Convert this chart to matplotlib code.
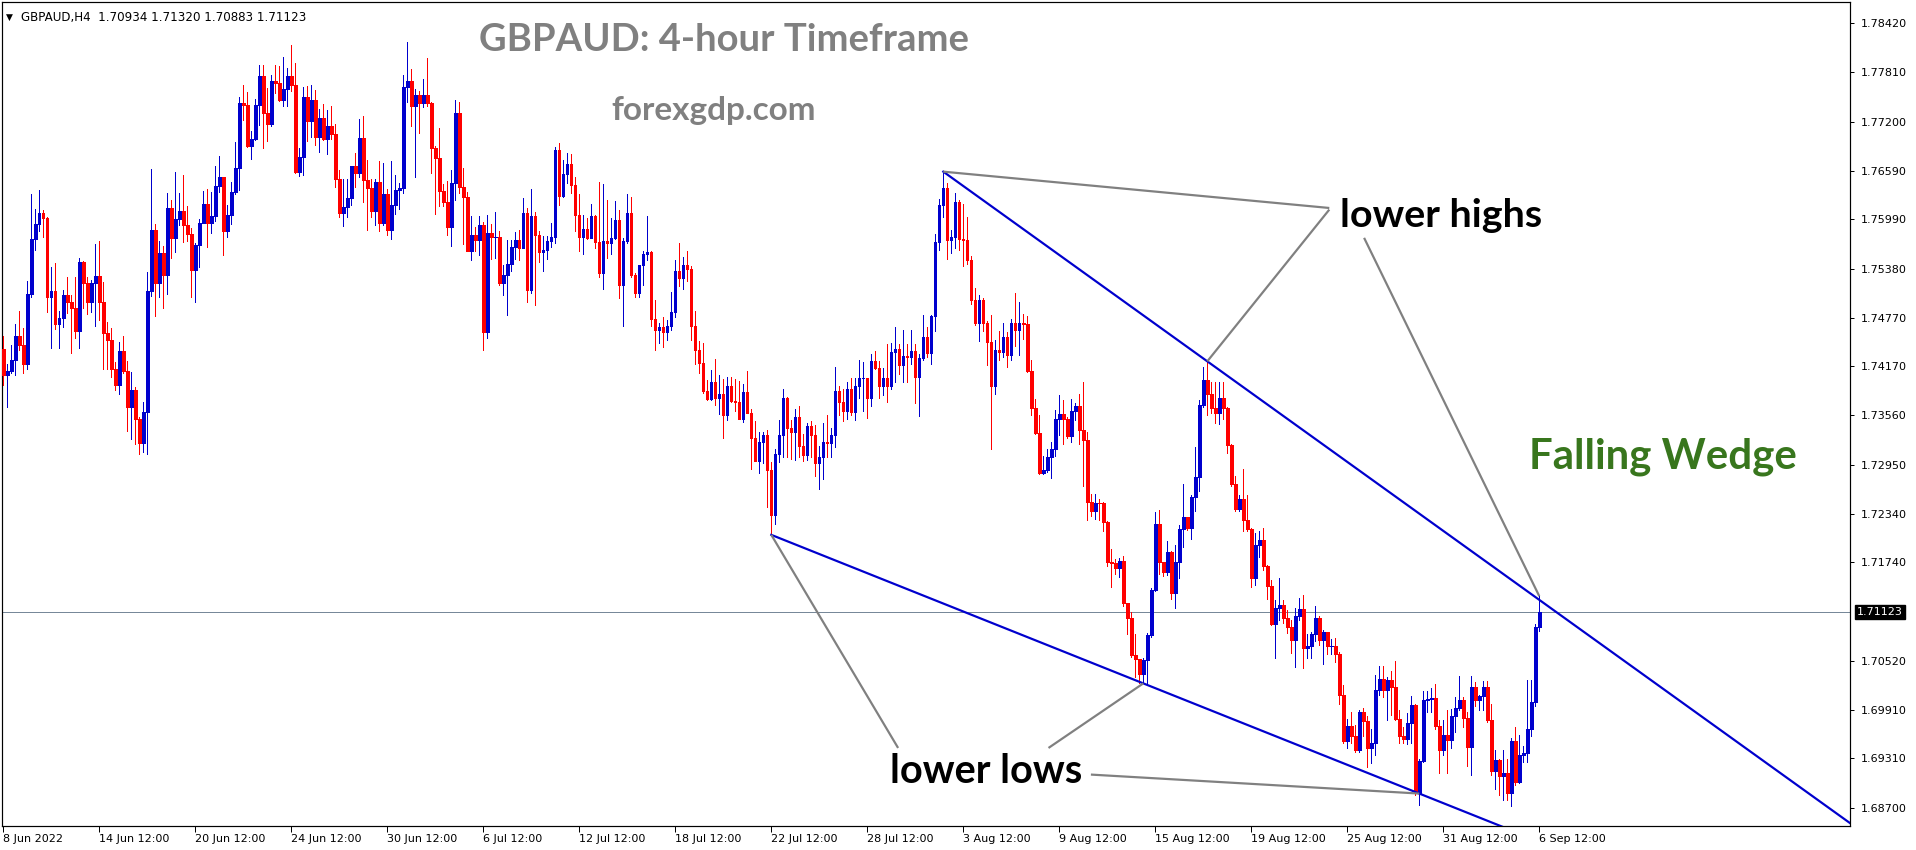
#!/usr/bin/env python3

'''
GBPAUD H4 candlestick chart with a falling wedge, drawn in the MT4 look.
Saves out.png at 1916x850.
'''

import numpy as np
import matplotlib
matplotlib.use("Agg")
import matplotlib.pyplot as plt

FIG_W, FIG_H, DPI = 1916, 850, 100

# chart frame, in pixels from the top-left corner of the picture
FRAME_LEFT, FRAME_RIGHT = 2, 1850
FRAME_TOP, FRAME_BOTTOM = 2, 826

# visible window of the chart
PRICE_MIN, PRICE_MAX = 1.68473, 1.78682
BAR_MIN, BAR_MAX = -0.325, 461.675

HEADER = "GBPAUD,H4  1.70934 1.71320 1.70883 1.71123"
FIRST_OPEN = 1.7438
LAST_BID = 1.71123

PRICE_TICKS = [1.78420, 1.77810, 1.77200, 1.76590, 1.75990, 1.75380, 1.74770, 1.74170,
               1.73560, 1.72950, 1.72340, 1.71740, 1.70520, 1.69910, 1.69310, 1.68700]

DATE_LABELS = ["8 Jun 2022", "14 Jun 12:00", "20 Jun 12:00", "24 Jun 12:00", "30 Jun 12:00",
               "6 Jul 12:00", "12 Jul 12:00", "18 Jul 12:00", "22 Jul 12:00", "28 Jul 12:00",
               "3 Aug 12:00", "9 Aug 12:00", "15 Aug 12:00", "19 Aug 12:00", "25 Aug 12:00",
               "31 Aug 12:00", "6 Sep 12:00"]
BARS_PER_DATE_TICK = 24  # 4 trading days of H4 bars

CLOSES = [
    1.7406, 1.7411, 1.7425, 1.7454, 1.7443, 1.7420, 1.7507, 1.7574, 1.7593, 1.7607, 1.7601, 1.7503,
    1.7510, 1.7469, 1.7477, 1.7505, 1.7496, 1.7489, 1.7461, 1.7546, 1.7520, 1.7496, 1.7520, 1.7529,
    1.7496, 1.7458, 1.7449, 1.7413, 1.7394, 1.7436, 1.7411, 1.7367, 1.7387, 1.7352, 1.7322, 1.7360,
    1.7510, 1.7586, 1.7520, 1.7557, 1.7530, 1.7613, 1.7576, 1.7599, 1.7609, 1.7592, 1.7581, 1.7536,
    1.7567, 1.7595, 1.7618, 1.7595, 1.7603, 1.7640, 1.7651, 1.7584, 1.7604, 1.7633, 1.7662, 1.7743,
    1.7740, 1.7690, 1.7698, 1.7740, 1.7777, 1.7731, 1.7717, 1.7770, 1.7768, 1.7747, 1.7760, 1.7777,
    1.7765, 1.7657, 1.7676, 1.7751, 1.7721, 1.7747, 1.7701, 1.7725, 1.7699, 1.7715, 1.7705, 1.7649,
    1.7607, 1.7614, 1.7625, 1.7665, 1.7656, 1.7700, 1.7648, 1.7638, 1.7609, 1.7645, 1.7594, 1.7630,
    1.7586, 1.7617, 1.7635, 1.7638, 1.7763, 1.7770, 1.7739, 1.7753, 1.7743, 1.7753, 1.7743, 1.7687,
    1.7675, 1.7634, 1.7620, 1.7589, 1.7644, 1.7731, 1.7639, 1.7627, 1.7560, 1.7580, 1.7573, 1.7592,
    1.7459, 1.7582, 1.7577, 1.7577, 1.7520, 1.7530, 1.7543, 1.7565, 1.7573, 1.7564, 1.7607, 1.7511,
    1.7603, 1.7579, 1.7558, 1.7561, 1.7572, 1.7577, 1.7685, 1.7628, 1.7655, 1.7668, 1.7641, 1.7604,
    1.7577, 1.7587, 1.7576, 1.7603, 1.7571, 1.7532, 1.7572, 1.7570, 1.7576, 1.7598, 1.7517, 1.7572,
    1.7607, 1.7530, 1.7508, 1.7542, 1.7556, 1.7558, 1.7475, 1.7462, 1.7466, 1.7459, 1.7467, 1.7484,
    1.7535, 1.7526, 1.7542, 1.7537, 1.7467, 1.7437, 1.7421, 1.7386, 1.7376, 1.7397, 1.7378, 1.7383,
    1.7357, 1.7392, 1.7374, 1.7373, 1.7352, 1.7385, 1.7359, 1.7328, 1.7300, 1.7323, 1.7332, 1.7288,
    1.7233, 1.7308, 1.7332, 1.7377, 1.7340, 1.7335, 1.7354, 1.7318, 1.7307, 1.7343, 1.7332, 1.7297,
    1.7305, 1.7323, 1.7322, 1.7332, 1.7386, 1.7373, 1.7361, 1.7389, 1.7360, 1.7392, 1.7402, 1.7402,
    1.7377, 1.7424, 1.7415, 1.7393, 1.7402, 1.7393, 1.7434, 1.7438, 1.7418, 1.7429, 1.7428, 1.7436,
    1.7404, 1.7427, 1.7453, 1.7433, 1.7479, 1.7571, 1.7617, 1.7638, 1.7573, 1.7577, 1.7621, 1.7574,
    1.7573, 1.7548, 1.7499, 1.7471, 1.7499, 1.7471, 1.7447, 1.7392, 1.7437, 1.7435, 1.7453, 1.7431,
    1.7470, 1.7462, 1.7470, 1.7469, 1.7411, 1.7365, 1.7334, 1.7285, 1.7288, 1.7305, 1.7315, 1.7352,
    1.7358, 1.7351, 1.7331, 1.7361, 1.7368, 1.7338, 1.7326, 1.7249, 1.7238, 1.7248, 1.7247, 1.7224,
    1.7174, 1.7173, 1.7167, 1.7176, 1.7123, 1.7105, 1.7059, 1.7054, 1.7036, 1.7053, 1.7084, 1.7140,
    1.7221, 1.7174, 1.7162, 1.7187, 1.7136, 1.7174, 1.7215, 1.7230, 1.7216, 1.7255, 1.7280, 1.7369,
    1.7400, 1.7383, 1.7365, 1.7359, 1.7377, 1.7365, 1.7319, 1.7271, 1.7240, 1.7252, 1.7226, 1.7215,
    1.7154, 1.7195, 1.7202, 1.7169, 1.7145, 1.7098, 1.7117, 1.7121, 1.7105, 1.7094, 1.7078, 1.7108,
    1.7116, 1.7068, 1.7070, 1.7085, 1.7105, 1.7078, 1.7088, 1.7070, 1.7070, 1.7060, 1.7010, 1.6953,
    1.6971, 1.6959, 1.6941, 1.6988, 1.6977, 1.6944, 1.6950, 1.7016, 1.7030, 1.7016, 1.7028, 1.7019,
    1.6980, 1.6959, 1.6955, 1.6975, 1.6997, 1.6888, 1.6928, 1.7003, 1.7005, 1.7006, 1.6971, 1.6941,
    1.6960, 1.6954, 1.6984, 1.6994, 1.7003, 1.6981, 1.6945, 1.7019, 1.7003, 1.7008, 1.7019, 1.6979,
    1.6916, 1.6929, 1.6909, 1.6913, 1.6888, 1.6953, 1.6902, 1.6935, 1.6938, 1.6968, 1.7001, 1.7094,
    1.71123,
]

HIGHS = [
    1.7454, 1.7420, 1.7443, 1.7469, 1.7485, 1.7464, 1.7522, 1.7630, 1.7612, 1.7635, 1.7610, 1.7602,
    1.7540, 1.7545, 1.7485, 1.7511, 1.7527, 1.7505, 1.7527, 1.7551, 1.7547, 1.7527, 1.7524, 1.7568,
    1.7572, 1.7521, 1.7472, 1.7464, 1.7422, 1.7447, 1.7454, 1.7423, 1.7410, 1.7391, 1.7354, 1.7373,
    1.7534, 1.7661, 1.7593, 1.7572, 1.7566, 1.7632, 1.7623, 1.7657, 1.7632, 1.7654, 1.7615, 1.7588,
    1.7570, 1.7599, 1.7634, 1.7636, 1.7633, 1.7665, 1.7677, 1.7652, 1.7617, 1.7645, 1.7695, 1.7751,
    1.7765, 1.7757, 1.7708, 1.7748, 1.7790, 1.7790, 1.7762, 1.7778, 1.7790, 1.7789, 1.7800, 1.7786,
    1.7815, 1.7793, 1.7687, 1.7763, 1.7764, 1.7765, 1.7759, 1.7736, 1.7742, 1.7734, 1.7739, 1.7717,
    1.7660, 1.7649, 1.7649, 1.7665, 1.7681, 1.7723, 1.7727, 1.7672, 1.7649, 1.7649, 1.7671, 1.7669,
    1.7636, 1.7671, 1.7654, 1.7644, 1.7778, 1.7819, 1.7785, 1.7760, 1.7758, 1.7773, 1.7799, 1.7744,
    1.7690, 1.7712, 1.7643, 1.7646, 1.7660, 1.7747, 1.7744, 1.7663, 1.7633, 1.7603, 1.7589, 1.7603,
    1.7596, 1.7604, 1.7593, 1.7608, 1.7585, 1.7542, 1.7573, 1.7573, 1.7583, 1.7586, 1.7625, 1.7613,
    1.7637, 1.7608, 1.7585, 1.7578, 1.7578, 1.7594, 1.7689, 1.7694, 1.7672, 1.7681, 1.7680, 1.7651,
    1.7630, 1.7604, 1.7601, 1.7618, 1.7604, 1.7645, 1.7643, 1.7623, 1.7601, 1.7622, 1.7611, 1.7576,
    1.7630, 1.7627, 1.7532, 1.7542, 1.7560, 1.7603, 1.7560, 1.7499, 1.7471, 1.7478, 1.7474, 1.7509,
    1.7549, 1.7570, 1.7552, 1.7560, 1.7541, 1.7485, 1.7448, 1.7446, 1.7400, 1.7412, 1.7426, 1.7406,
    1.7401, 1.7404, 1.7404, 1.7401, 1.7399, 1.7395, 1.7411, 1.7364, 1.7349, 1.7335, 1.7335, 1.7338,
    1.7298, 1.7315, 1.7350, 1.7389, 1.7379, 1.7350, 1.7364, 1.7368, 1.7333, 1.7346, 1.7349, 1.7344,
    1.7318, 1.7346, 1.7357, 1.7340, 1.7416, 1.7392, 1.7389, 1.7398, 1.7402, 1.7402, 1.7425, 1.7422,
    1.7402, 1.7432, 1.7436, 1.7423, 1.7415, 1.7445, 1.7446, 1.7465, 1.7444, 1.7462, 1.7445, 1.7462,
    1.7444, 1.7432, 1.7481, 1.7465, 1.7481, 1.7581, 1.7624, 1.7658, 1.7644, 1.7586, 1.7631, 1.7623,
    1.7618, 1.7602, 1.7553, 1.7514, 1.7505, 1.7502, 1.7473, 1.7481, 1.7449, 1.7460, 1.7471, 1.7459,
    1.7476, 1.7508, 1.7497, 1.7482, 1.7479, 1.7425, 1.7376, 1.7357, 1.7306, 1.7315, 1.7323, 1.7363,
    1.7381, 1.7375, 1.7354, 1.7376, 1.7371, 1.7383, 1.7397, 1.7336, 1.7259, 1.7259, 1.7252, 1.7249,
    1.7225, 1.7190, 1.7178, 1.7179, 1.7182, 1.7124, 1.7113, 1.7085, 1.7054, 1.7055, 1.7086, 1.7142,
    1.7236, 1.7239, 1.7175, 1.7200, 1.7188, 1.7195, 1.7220, 1.7271, 1.7230, 1.7257, 1.7317, 1.7375,
    1.7416, 1.7423, 1.7397, 1.7398, 1.7398, 1.7398, 1.7367, 1.7321, 1.7281, 1.7257, 1.7289, 1.7257,
    1.7216, 1.7210, 1.7213, 1.7217, 1.7171, 1.7152, 1.7127, 1.7154, 1.7127, 1.7115, 1.7103, 1.7118,
    1.7130, 1.7134, 1.7085, 1.7088, 1.7120, 1.7108, 1.7090, 1.7088, 1.7079, 1.7080, 1.7063, 1.7022,
    1.6980, 1.6988, 1.6972, 1.6991, 1.6993, 1.6983, 1.6968, 1.7034, 1.7045, 1.7046, 1.7032, 1.7039,
    1.7052, 1.6991, 1.6970, 1.6987, 1.7008, 1.6999, 1.6930, 1.7015, 1.7015, 1.7018, 1.7023, 1.6979,
    1.6979, 1.6991, 1.6992, 1.7007, 1.7033, 1.7007, 1.6989, 1.7033, 1.7026, 1.7010, 1.7027, 1.7027,
    1.6999, 1.6942, 1.6930, 1.6942, 1.6930, 1.6956, 1.6970, 1.6960, 1.6946, 1.7028, 1.7028, 1.7098,
    1.71320,
]

LOWS = [
    1.7394, 1.7367, 1.7408, 1.7406, 1.7437, 1.7409, 1.7413, 1.7503, 1.7561, 1.7584, 1.7577, 1.7484,
    1.7439, 1.7463, 1.7439, 1.7466, 1.7483, 1.7433, 1.7452, 1.7439, 1.7489, 1.7482, 1.7484, 1.7467,
    1.7474, 1.7414, 1.7414, 1.7404, 1.7388, 1.7382, 1.7408, 1.7337, 1.7327, 1.7321, 1.7308, 1.7311,
    1.7308, 1.7504, 1.7479, 1.7503, 1.7489, 1.7507, 1.7551, 1.7559, 1.7592, 1.7571, 1.7572, 1.7503,
    1.7497, 1.7540, 1.7595, 1.7565, 1.7582, 1.7597, 1.7633, 1.7555, 1.7577, 1.7593, 1.7630, 1.7635,
    1.7722, 1.7689, 1.7674, 1.7697, 1.7716, 1.7687, 1.7696, 1.7714, 1.7756, 1.7746, 1.7739, 1.7739,
    1.7758, 1.7656, 1.7653, 1.7654, 1.7696, 1.7701, 1.7691, 1.7682, 1.7697, 1.7680, 1.7698, 1.7639,
    1.7602, 1.7591, 1.7602, 1.7617, 1.7639, 1.7652, 1.7620, 1.7586, 1.7602, 1.7592, 1.7585, 1.7592,
    1.7579, 1.7575, 1.7605, 1.7612, 1.7632, 1.7744, 1.7715, 1.7651, 1.7706, 1.7738, 1.7739, 1.7656,
    1.7606, 1.7615, 1.7615, 1.7580, 1.7566, 1.7623, 1.7632, 1.7568, 1.7560, 1.7549, 1.7560, 1.7555,
    1.7437, 1.7452, 1.7550, 1.7551, 1.7517, 1.7505, 1.7481, 1.7535, 1.7550, 1.7549, 1.7563, 1.7497,
    1.7508, 1.7493, 1.7546, 1.7535, 1.7550, 1.7565, 1.7570, 1.7617, 1.7626, 1.7644, 1.7631, 1.7584,
    1.7560, 1.7556, 1.7575, 1.7579, 1.7563, 1.7527, 1.7513, 1.7551, 1.7556, 1.7575, 1.7502, 1.7467,
    1.7569, 1.7527, 1.7503, 1.7503, 1.7517, 1.7548, 1.7467, 1.7437, 1.7446, 1.7441, 1.7449, 1.7462,
    1.7478, 1.7516, 1.7513, 1.7523, 1.7450, 1.7420, 1.7409, 1.7384, 1.7375, 1.7375, 1.7369, 1.7358,
    1.7328, 1.7350, 1.7373, 1.7361, 1.7351, 1.7348, 1.7359, 1.7290, 1.7299, 1.7285, 1.7297, 1.7243,
    1.7208, 1.7222, 1.7298, 1.7305, 1.7305, 1.7302, 1.7301, 1.7304, 1.7300, 1.7301, 1.7304, 1.7281,
    1.7265, 1.7277, 1.7305, 1.7304, 1.7317, 1.7357, 1.7349, 1.7351, 1.7356, 1.7350, 1.7378, 1.7362,
    1.7353, 1.7368, 1.7413, 1.7378, 1.7381, 1.7372, 1.7389, 1.7397, 1.7407, 1.7397, 1.7397, 1.7420,
    1.7371, 1.7355, 1.7425, 1.7428, 1.7420, 1.7460, 1.7561, 1.7602, 1.7550, 1.7557, 1.7563, 1.7561,
    1.7541, 1.7544, 1.7494, 1.7468, 1.7448, 1.7461, 1.7419, 1.7315, 1.7382, 1.7425, 1.7428, 1.7416,
    1.7425, 1.7442, 1.7431, 1.7451, 1.7410, 1.7357, 1.7333, 1.7284, 1.7284, 1.7286, 1.7278, 1.7306,
    1.7332, 1.7321, 1.7328, 1.7323, 1.7350, 1.7321, 1.7268, 1.7226, 1.7231, 1.7228, 1.7226, 1.7213,
    1.7169, 1.7143, 1.7160, 1.7156, 1.7120, 1.7085, 1.7057, 1.7032, 1.7025, 1.7024, 1.7024, 1.7082,
    1.7138, 1.7159, 1.7157, 1.7158, 1.7128, 1.7117, 1.7155, 1.7193, 1.7214, 1.7203, 1.7238, 1.7262,
    1.7367, 1.7357, 1.7359, 1.7346, 1.7345, 1.7352, 1.7310, 1.7269, 1.7237, 1.7237, 1.7213, 1.7213,
    1.7143, 1.7146, 1.7181, 1.7164, 1.7128, 1.7096, 1.7055, 1.7103, 1.7099, 1.7087, 1.7062, 1.7044,
    1.7103, 1.7043, 1.7056, 1.7056, 1.7076, 1.7072, 1.7048, 1.7060, 1.7060, 1.7051, 1.6998, 1.6950,
    1.6944, 1.6950, 1.6939, 1.6939, 1.6959, 1.6921, 1.6925, 1.6935, 1.7010, 1.7007, 1.6979, 1.6985,
    1.6979, 1.6950, 1.6950, 1.6949, 1.6950, 1.6886, 1.6873, 1.6926, 1.6988, 1.6988, 1.6968, 1.6913,
    1.6935, 1.6913, 1.6944, 1.6964, 1.6991, 1.6970, 1.6922, 1.6910, 1.6996, 1.6991, 1.6991, 1.6976,
    1.6911, 1.6893, 1.6886, 1.6880, 1.6879, 1.6872, 1.6898, 1.6901, 1.6927, 1.6927, 1.6959, 1.6996,
    1.70883,
]

# pivot bars the wedge lines and pointer lines are anchored to
LOWER_HIGH_BARS = [235, 301]
BREAKOUT_BAR = 384
LOWER_LOW_BARS = [192, 285, 354]

BULL = "#0000CD"
BEAR = "#FF0000"
WEDGE = "#0000CD"
POINTER = "#808080"
PX = 72 / DPI  # one pixel in points


def px_to_fig(x_px, y_px):
    return x_px / FIG_W, 1 - y_px / FIG_H


# places a text and rescales its font so it spans width_px, like the reference lettering
def fit_text(fig, x_px, y_px, s, width_px, **kw):
    fx, fy = px_to_fig(x_px, y_px)
    t = fig.text(fx, fy, s, fontsize=20, va="baseline", ha="left", **kw)
    w = t.get_window_extent(fig.canvas.get_renderer()).width
    t.set_fontsize(20 * width_px / w)
    return t


# straight line through two (bar, price) points, evaluated at bar x
def line_at(p0, p1, x):
    slope = (p1[1] - p0[1]) / (p1[0] - p0[0])
    return p0[1] + slope * (x - p0[0])


def draw_candles(ax):
    closes = np.array(CLOSES)
    opens = np.concatenate([[FIRST_OPEN], closes[:-1]])  # H4 forex bars open at the prior close
    highs = np.maximum.reduce([np.array(HIGHS), opens, closes])
    lows = np.minimum.reduce([np.array(LOWS), opens, closes])
    x = np.arange(len(closes))
    colors = np.where(closes >= opens, BULL, BEAR)

    ax.vlines(x, lows, highs, colors=colors, linewidth=PX, antialiased=False, zorder=3)
    ax.bar(x, closes - opens, bottom=opens, width=0.6, color=colors, edgecolor=colors,
           linewidth=0.5, antialiased=False, zorder=4)


def wedge_points():
    h0, h1 = LOWER_HIGH_BARS
    upper = ((h0, HIGHS[h0]), (h1, HIGHS[h1]))
    l0, l1 = LOWER_LOW_BARS[0], LOWER_LOW_BARS[1]
    lower = ((l0, LOWS[l0]), (l1, LOWS[l1]))
    return upper, lower


def draw_wedge(ax):
    upper, lower = wedge_points()
    x0 = upper[0][0]
    ax.plot([x0, BAR_MAX], [upper[0][1], line_at(*upper, BAR_MAX)], color=WEDGE, lw=2.2 * PX, zorder=5)
    x0 = lower[0][0]
    ax.plot([x0, 400], [lower[0][1], line_at(*lower, 400)], color=WEDGE, lw=2.2 * PX, zorder=5)


def draw_pointers(ax):
    kw = dict(color=POINTER, lw=2.2 * PX, zorder=5, solid_capstyle="butt")
    _, lower = wedge_points()
    h0, h1 = LOWER_HIGH_BARS
    # label-side ends sit next to the "lower highs" / "lower lows" captions
    ax.plot([h0, 331.5], [HIGHS[h0], 1.7613], **kw)
    ax.plot([331.5, h1], [1.7611, HIGHS[h1]], **kw)
    ax.plot([340.2, BREAKOUT_BAR], [1.7576, HIGHS[BREAKOUT_BAR]], **kw)

    l0, l1, l2 = LOWER_LOW_BARS
    ax.plot([l0, 223.7], [LOWS[l0], 1.6944], **kw)
    ax.plot([261.3, l1], [1.6944, LOWS[l1]], **kw)
    ax.plot([271.9, l2], [1.6911, line_at(*lower, l2)], **kw)


def style_axes(ax):
    ax.set_xlim(BAR_MIN, BAR_MAX)
    ax.set_ylim(PRICE_MIN, PRICE_MAX)
    for sp in ax.spines.values():
        sp.set_linewidth(1.2 * PX)
        sp.set_color("black")

    ax.yaxis.tick_right()
    ax.set_yticks(PRICE_TICKS)
    ax.set_yticklabels([f"{v:.5f}" for v in PRICE_TICKS])
    ax.tick_params(axis="y", direction="out", length=3 * PX * 1.4, width=PX, pad=5,
                   labelsize=8, colors="black")

    ax.set_xticks([i * BARS_PER_DATE_TICK for i in range(len(DATE_LABELS))])
    ax.set_xticklabels(DATE_LABELS)
    ax.tick_params(axis="x", direction="out", length=4 * PX * 1.4, width=PX, pad=2,
                   labelsize=8, colors="black")
    for lab in ax.get_xticklabels():
        lab.set_ha("left")

    ax.axhline(LAST_BID, color="#778899", lw=PX, zorder=2)
    ax.annotate(f"{LAST_BID:.5f}", xy=(1, LAST_BID), xycoords=ax.get_yaxis_transform(),
                xytext=(7, 0), textcoords="offset pixels", ha="left", va="center",
                color="white", fontsize=8, annotation_clip=False,
                bbox=dict(boxstyle="square,pad=0.2", fc="black", ec="black"))


def main() -> None:
    fig = plt.figure(figsize=(FIG_W / DPI, FIG_H / DPI), dpi=DPI)
    ax = fig.add_axes([FRAME_LEFT / FIG_W, 1 - FRAME_BOTTOM / FIG_H,
                       (FRAME_RIGHT - FRAME_LEFT) / FIG_W, (FRAME_BOTTOM - FRAME_TOP) / FIG_H])

    draw_candles(ax)
    draw_wedge(ax)
    draw_pointers(ax)
    style_axes(ax)

    fx, fy = px_to_fig(6, 17)
    fig.text(fx, fy, "\u25BC", fontsize=6.5, va="center", ha="left", family="DejaVu Sans")
    fx, fy = px_to_fig(21, 17)
    fig.text(fx, fy, HEADER, fontsize=8.6, va="center", ha="left")

    bold = dict(family="Lato", fontweight="bold")
    fit_text(fig, 479, 51, "GBPAUD: 4-hour Timeframe", 490, color="#808080", **bold)
    fit_text(fig, 611, 120, "forexgdp.com", 205, color="#808080", **bold)
    fit_text(fig, 1529, 469, "Falling Wedge", 268, color="#38761D", **bold)
    fit_text(fig, 1340, 227, "lower highs", 202, color="black", **bold)
    fit_text(fig, 890, 783, "lower lows", 192, color="black", **bold)

    fig.savefig("out.png", dpi=DPI)
    plt.close(fig)


if __name__ == '__main__':
    main()
